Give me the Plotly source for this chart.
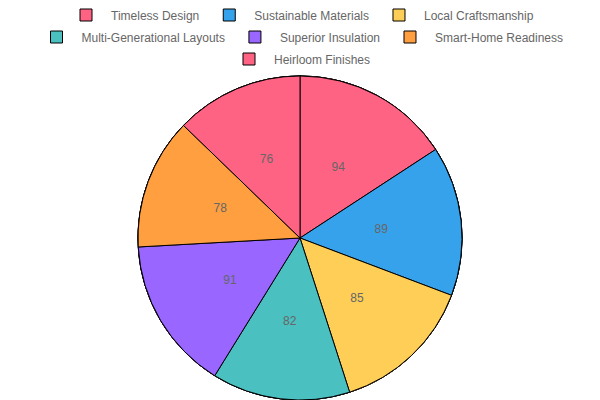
import plotly.graph_objects as go

labels = ["Timeless Design", "Sustainable Materials", "Local Craftsmanship",
          "Multi-Generational Layouts", "Superior Insulation", "Smart-Home Readiness",
          "Heirloom Finishes"]
values = [94, 89, 85, 82, 91, 78, 76]
colors = ["#FF6384", "#36A2EB", "#FFCE56", "#4BC0C0", "#9966FF", "#FF9F40", "#FF6384"]
legend_rows = [[0, 1, 2], [3, 4, 5], [6]]

FONT = "Liberation Sans, Arial, sans-serif"
main_domain = dict(x=[0, 1], y=[0, 0.81])

fig = go.Figure()

# legend-carrying pies (hidden under the main pie)
for k, row in enumerate(legend_rows):
    fig.add_trace(go.Pie(
        labels=[labels[i] for i in row], values=[values[i] for i in row],
        sort=False, direction="clockwise",
        marker=dict(colors=[colors[i] for i in row], line=dict(color="#000000", width=1)),
        textinfo="none", hoverinfo="skip", domain=main_domain,
        legend="legend" if k == 0 else f"legend{k+1}", showlegend=True,
    ))

# main pie
fig.add_trace(go.Pie(
    labels=labels, values=values, sort=False, direction="clockwise", rotation=0,
    marker=dict(colors=colors, line=dict(color="#000000", width=1)),
    textinfo="none", domain=main_domain, showlegend=False,
    hoverinfo="label+value",
))

# transparent pie carrying value labels at about half radius
fig.add_trace(go.Pie(
    labels=labels, values=values, sort=False, direction="clockwise", rotation=0,
    marker=dict(colors=["rgba(0,0,0,0)"] * len(values), line=dict(width=0)),
    textinfo="value", textposition="inside", insidetextorientation="horizontal",
    textfont=dict(family=FONT, size=12, color="#666666"),
    domain=dict(x=[0.3017, 0.6983], y=[0.1075, 0.7025]), showlegend=False,
    hoverinfo="skip",
))

leg_common = dict(orientation="h", x=0.5, xanchor="center", yanchor="middle",
                  font=dict(family=FONT, size=12, color="#666666"), itemwidth=40,
                  bgcolor="rgba(0,0,0,0)")
fig.update_layout(
    width=600, height=400, margin=dict(l=0, r=0, t=0, b=0),
    paper_bgcolor="white", plot_bgcolor="white",
    font=dict(family=FONT, size=12, color="#666666"),
    legend=dict(y=0.9625, **leg_common),
    legend2=dict(y=0.9075, **leg_common),
    legend3=dict(y=0.8525, **leg_common),
)
fig.write_html("out.html")
